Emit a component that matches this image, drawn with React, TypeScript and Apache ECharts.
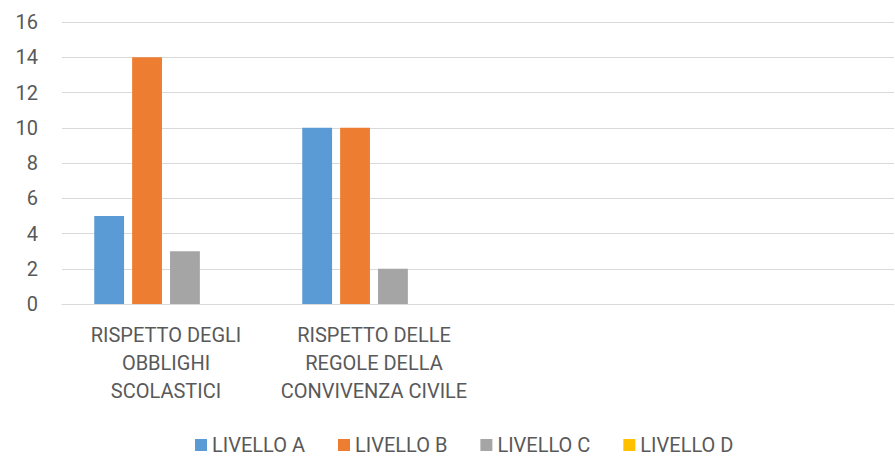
import React, { useEffect, useRef } from "react";
import * as echarts from "echarts";

const categories = [
  "RISPETTO DEGLI\nOBBLIGHI\nSCOLASTICI",
  "RISPETTO DELLE\nREGOLE DELLA\nCONVIVENZA CIVILE",
  "",
  "",
];
const seriesNames = ["LIVELLO A", "LIVELLO B", "LIVELLO C", "LIVELLO D"];
const livelloA = [5, 10, null, null];
const livelloB = [14, 10, null, null];
const livelloC = [3, 2, null, null];
const livelloD = [0, 0, null, null];
const colors = ["#5B9BD5", "#ED7D31", "#A5A5A5", "#FFC000"];

const FONT = "Roboto";

export default function App() {
  const ref = useRef<HTMLDivElement>(null);
  useEffect(() => {
    if (!ref.current) return;
    const chart = echarts.init(ref.current, undefined, { renderer: "svg" });
    const data = [livelloA, livelloB, livelloC, livelloD];
    chart.setOption({
      animation: false,
      color: colors,
      textStyle: { fontFamily: FONT },
      grid: { left: 62, right: 1, top: 22, bottom: 153, containLabel: false },
      legend: {
        top: 434,
        left: 195,
        padding: 0,
        itemWidth: 12,
        itemHeight: 12,
        itemGap: 33,
        icon: "rect",
        textStyle: { color: "#595959", fontSize: 20, fontFamily: FONT, lineHeight: 22 },
        data: seriesNames,
      },
      xAxis: {
        type: "category",
        data: categories,
        axisLine: { show: true, lineStyle: { color: "#D9D9D9", width: 1 } },
        axisTick: { show: false },
        axisLabel: {
          color: "#595959",
          fontSize: 20,
          fontFamily: FONT,
          lineHeight: 28,
          margin: 17,
          interval: 0,
          align: "center",
        },
      },
      yAxis: {
        type: "value",
        min: 0,
        max: 16,
        interval: 2,
        axisLine: { show: false },
        axisTick: { show: false },
        splitLine: { lineStyle: { color: "#D9D9D9", width: 1 } },
        axisLabel: { color: "#595959", fontSize: 20, fontFamily: FONT, margin: 24 },
      },
      series: seriesNames.map((name, i) => ({
        name,
        type: "bar",
        data: data[i],
        barGap: "27%",
        barCategoryGap: "31%",
      })),
    });
    return () => chart.dispose();
  }, []);
  return (
    <div
      ref={ref}
      style={{ position: "absolute", left: 0, top: 0, width: 895, height: 457 }}
    />
  );
}
